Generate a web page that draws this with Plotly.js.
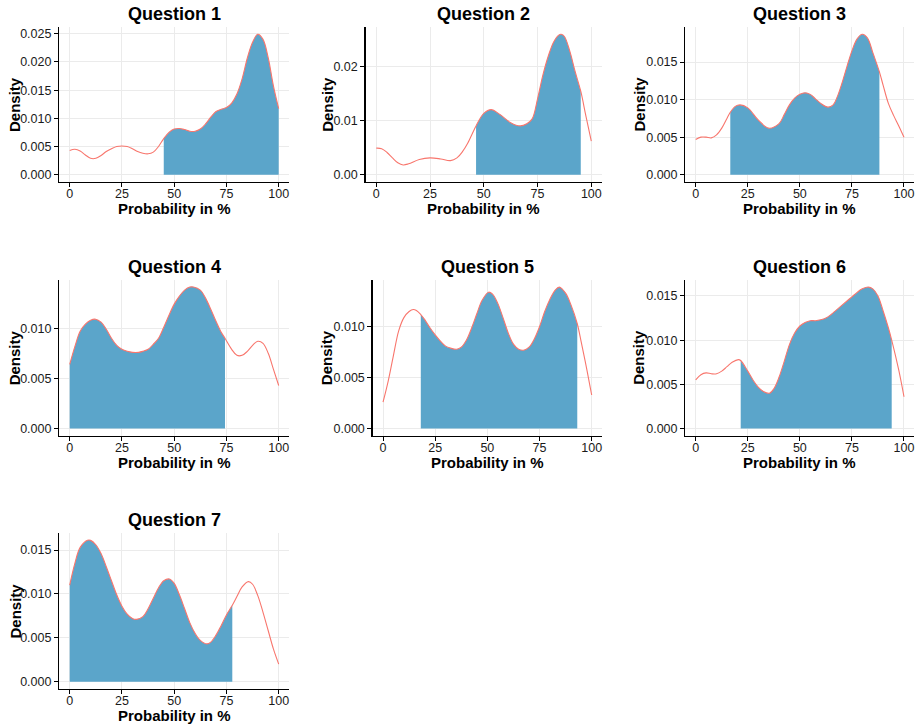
<!DOCTYPE html>
<html>
<head>
<meta charset="utf-8">
<script src="https://cdn.plot.ly/plotly-3.0.1.min.js"></script>
<style>
  html, body { margin: 0; padding: 0; background: #ffffff; }
  #chart { width: 923px; height: 727px; }
</style>
</head>
<body>
<div id="chart"></div>
<script>
// Kernel density of the stated probability for each question,
// with the central region of the distribution shaded.
const questions = ["Question 1", "Question 2", "Question 3", "Question 4",
                   "Question 5", "Question 6", "Question 7"];
const xTicks = [0, 25, 50, 75, 100];
const xTickText = ["0", "25", "50", "75", "100"];

const probQ1 = [0, 2.5, 5, 7.5, 10, 12.5, 15, 17.5, 20, 22.5, 25, 27.5, 30, 32.5, 35, 37.5, 40, 42.5,
                45, 47.5, 50, 52.5, 55, 57.5, 60, 62.5, 65, 67.5, 70, 72.5, 75, 77.5, 80, 82.5, 85,
                87.5, 90, 92.5, 95, 97.5, 100];
const densQ1 = [0.0043, 0.0045, 0.0042, 0.0035, 0.0029, 0.0029, 0.0034, 0.0041, 0.0046, 0.0050, 0.0051,
                0.0050, 0.0046, 0.0041, 0.0038, 0.0037, 0.0040, 0.0050, 0.0064, 0.0075, 0.0081, 0.0082,
                0.0080, 0.0077, 0.0077, 0.0081, 0.0090, 0.0102, 0.0112, 0.0116, 0.0119, 0.0127, 0.0143,
                0.0170, 0.0207, 0.0235, 0.0249, 0.0240, 0.0207, 0.0157, 0.0117];
const shadeQ1 = [45, 100];

const probQ2 = [0, 2.5, 5, 7.5, 10, 12.5, 15, 20, 25, 30, 34.5, 37.5, 40, 42.5, 46.4, 50, 53.4, 57.5,
                62.5, 66.9, 70, 72.5, 75, 77.5, 80, 82.5, 85, 86, 87.5, 90, 92.5, 95.1, 97.5, 100];
const densQ2 = [0.0049, 0.0048, 0.0041, 0.0031, 0.0022, 0.0018, 0.0020, 0.0028, 0.0031, 0.0029, 0.0026,
                0.0031, 0.0042, 0.0058, 0.0090, 0.0113, 0.0120, 0.0111, 0.0096, 0.0090, 0.0094, 0.0103,
                0.0140, 0.0184, 0.0219, 0.0245, 0.0258, 0.0259, 0.0255, 0.0228, 0.0190, 0.0154, 0.0108,
                0.0062];
const shadeQ2 = [46.4, 95.1];

const probQ3 = [0, 2.5, 5, 7.5, 10, 12.5, 15, 16.6, 19, 21.3, 25, 30, 35, 40, 42.5, 45, 47.5, 50, 52.5,
                55, 57.5, 60, 63.5, 66, 68, 70, 72.5, 75, 77.5, 80, 82.5, 85, 88.2, 90, 92.5, 95, 97.5, 100];
const densQ3 = [0.0047, 0.0050, 0.0050, 0.0049, 0.0053, 0.0062, 0.0075, 0.0083, 0.0091, 0.0093, 0.0089,
                0.0073, 0.0062, 0.0068, 0.0080, 0.0093, 0.0102, 0.0107, 0.0109, 0.0107, 0.0101, 0.0095,
                0.0090, 0.0093, 0.0104, 0.0120, 0.0143, 0.0165, 0.0181, 0.0187, 0.0182, 0.0163, 0.0137,
                0.0119, 0.0095, 0.0079, 0.0065, 0.0050];
const shadeQ3 = [16.6, 88.2];

const probQ4 = [0, 2.5, 5, 7.5, 10, 12.4, 15, 17.5, 20, 22.5, 25, 27.5, 30, 33, 35, 37.5, 40, 42.5, 45,
                47.5, 50, 52.5, 55, 57.5, 59.2, 62.5, 65, 67.5, 70, 72.5, 74.3, 77.5, 80, 82.5, 85, 87.5,
                90, 92.5, 95, 97.5, 100];
const densQ4 = [0.0064, 0.0082, 0.0097, 0.0104, 0.0108, 0.0109, 0.0106, 0.0099, 0.0090, 0.0083, 0.0079,
                0.0077, 0.0076, 0.0076, 0.0077, 0.0079, 0.0084, 0.0090, 0.0101, 0.0113, 0.0124, 0.0132,
                0.0138, 0.0141, 0.0141, 0.0138, 0.0130, 0.0119, 0.0107, 0.0096, 0.0090, 0.0079, 0.0073,
                0.0073, 0.0077, 0.0083, 0.0087, 0.0085, 0.0075, 0.0059, 0.0043];
const shadeQ4 = [0, 74.3];

const probQ5 = [0, 2.5, 5, 7.5, 10, 12.5, 14.5, 16, 18.1, 20, 22.5, 25, 27.5, 30, 32.5, 35.3, 37.5, 40,
                42.5, 45, 47.5, 50.6, 52.5, 55, 57.5, 60, 62.5, 65, 67.3, 70, 72.5, 75, 77.5, 80, 82.5,
                84.5, 87.5, 90, 93.1, 95, 97.5, 100];
const densQ5 = [0.0026, 0.0047, 0.0072, 0.0096, 0.0109, 0.0115, 0.0117, 0.0116, 0.0112, 0.0107, 0.0099,
                0.0092, 0.0086, 0.0081, 0.0079, 0.0078, 0.0080, 0.0087, 0.0099, 0.0113, 0.0126, 0.0134,
                0.0132, 0.0123, 0.0109, 0.0094, 0.0083, 0.0078, 0.0077, 0.0080, 0.0088, 0.0100, 0.0115,
                0.0127, 0.0136, 0.0139, 0.0133, 0.0122, 0.0103, 0.0085, 0.0060, 0.0033];
const shadeQ5 = [18.1, 93.1];

const probQ6 = [0, 2.5, 5, 7.5, 10, 12.5, 15, 17.5, 20.5, 21.6, 25, 27.5, 30, 32.5, 35.4, 37.5, 40, 42.5,
                45, 47.5, 50, 52.5, 55, 57.5, 60, 62.5, 65, 67.5, 70, 72.5, 75, 77.5, 80, 82.9, 85, 87.5,
                90, 92.5, 94.1, 97.5, 100];
const densQ6 = [0.0055, 0.0061, 0.0063, 0.0062, 0.0062, 0.0065, 0.0070, 0.0075, 0.0078, 0.0077, 0.0065,
                0.0055, 0.0047, 0.0042, 0.0040, 0.0045, 0.0058, 0.0076, 0.0095, 0.0108, 0.0116, 0.0120,
                0.0122, 0.0122, 0.0123, 0.0125, 0.0129, 0.0134, 0.0139, 0.0144, 0.0149, 0.0154, 0.0158,
                0.0160, 0.0158, 0.0150, 0.0133, 0.0114, 0.0100, 0.0066, 0.0036];
const shadeQ6 = [21.6, 94.1];

const probQ7 = [0, 2.5, 5, 8.5, 10, 12.5, 15, 17.5, 20, 22.5, 25, 27.5, 30, 32, 35, 37.5, 40, 42.5, 45,
                47.7, 50, 52.5, 55, 57.5, 60, 62.5, 65.6, 67.5, 70, 72.5, 75, 77.8, 80, 82.5, 85.5, 87.5,
                90, 92.5, 95, 97.5, 100];
const densQ7 = [0.0110, 0.0135, 0.0153, 0.0161, 0.0161, 0.0156, 0.0146, 0.0131, 0.0115, 0.0099, 0.0086,
                0.0077, 0.0072, 0.0071, 0.0074, 0.0083, 0.0095, 0.0107, 0.0115, 0.0117, 0.0112, 0.0099,
                0.0083, 0.0067, 0.0055, 0.0047, 0.0043, 0.0045, 0.0053, 0.0064, 0.0076, 0.0087, 0.0097,
                0.0108, 0.0114, 0.0111, 0.0098, 0.0079, 0.0058, 0.0037, 0.0020];
const shadeQ7 = [0, 77.8];

const probs = [probQ1, probQ2, probQ3, probQ4, probQ5, probQ6, probQ7];
const dens = [densQ1, densQ2, densQ3, densQ4, densQ5, densQ6, densQ7];
const shades = [shadeQ1, shadeQ2, shadeQ3, shadeQ4, shadeQ5, shadeQ6, shadeQ7];
const yStep = [0.005, 0.01, 0.005, 0.005, 0.005, 0.005, 0.005];
const yFormat = [".3f", ".2f", ".3f", ".3f", ".3f", ".3f", ".3f"];

// Panel boxes in page pixels: [left, right, top, bottom], plus the y-title centre.
const W = 923, H = 727;
const boxes = [
  [59.25, 289.15, 27.3, 181.7],
  [365.55, 602.05, 27.3, 181.7],
  [685.3, 914.4, 27.3, 181.7],
  [59.25, 289.15, 280, 435.7],
  [372.6, 602.1, 280, 435.7],
  [685.3, 914.4, 280, 435.7],
  [59.25, 289.15, 533.3, 688.7]
];
const yTitleX = [14.5, 327.3, 639, 14.5, 327.3, 639, 14.5];

const FONT = "Liberation Sans, Arial, Helvetica, sans-serif";
const FILL = "#5ba5ca";
const LINE = "#f8766d";

const traces = [];
const layout = {
  width: W, height: H,
  margin: {l: 0, r: 0, t: 0, b: 0},
  paper_bgcolor: "#ffffff",
  plot_bgcolor: "#ffffff",
  showlegend: false,
  font: {family: FONT, color: "#1a1a1a"},
  annotations: []
};

const px = v => v / W;
const py = v => 1 - v / H;

questions.forEach((q, i) => {
  const sfx = i === 0 ? "" : String(i + 1);
  const xa = "x" + sfx, ya = "y" + sfx;
  const xs = probs[i], ys = dens[i];
  const [lo, hi] = shades[i];

  const sx = [], sy = [];
  xs.forEach((v, k) => { if (v >= lo && v <= hi) { sx.push(v); sy.push(ys[k]); } });

  traces.push({
    x: sx, y: sy, xaxis: xa, yaxis: ya, type: "scatter", mode: "lines",
    line: {width: 0, shape: "spline", color: FILL},
    fill: "tozeroy", fillcolor: FILL, hoverinfo: "skip"
  });
  traces.push({
    x: xs, y: ys, xaxis: xa, yaxis: ya, type: "scatter", mode: "lines",
    line: {width: 1.1, shape: "spline", color: LINE}
  });

  const top = Math.max(...ys);
  const [l, r, t, b] = boxes[i];
  const axisCommon = {
    showline: true, linecolor: "#000000", linewidth: 1.3,
    ticks: "outside", ticklen: 4, tickwidth: 1, tickcolor: "#000000",
    showgrid: true, gridcolor: "#ebebeb", gridwidth: 1,
    zeroline: false, fixedrange: true,
    tickfont: {family: FONT, size: 12.5, color: "#1a1a1a"}
  };
  layout["xaxis" + sfx] = Object.assign({}, axisCommon, {
    domain: [px(l), px(r)], anchor: ya,
    range: [-5, 105], tickmode: "array", tickvals: xTicks, ticktext: xTickText,
    ticklabelstandoff: -4
  });
  layout["yaxis" + sfx] = Object.assign({}, axisCommon, {
    domain: [py(b), py(t)], anchor: xa,
    range: [-0.05 * top, 1.05 * top], tick0: 0, dtick: yStep[i], tickformat: yFormat[i]
  });

  const cx = (l + r) / 2;
  layout.annotations.push({
    text: q, xref: "paper", yref: "paper", x: px(cx), y: py(t - 13),
    xanchor: "center", yanchor: "middle", showarrow: false,
    font: {family: FONT, size: 18, weight: "bold", color: "#000000"}
  });
  layout.annotations.push({
    text: "Probability in %", xref: "paper", yref: "paper", x: px(cx), y: py(b + 26.5),
    xanchor: "center", yanchor: "middle", showarrow: false,
    font: {family: FONT, size: 15, weight: "bold", color: "#000000"}
  });
  layout.annotations.push({
    text: "Density", xref: "paper", yref: "paper", x: px(yTitleX[i]), y: py((t + b) / 2),
    xanchor: "center", yanchor: "middle", textangle: -90, showarrow: false,
    font: {family: FONT, size: 15, weight: "bold", color: "#000000"}
  });
});

Plotly.newPlot("chart", traces, layout, {staticPlot: true, displayModeBar: false});
</script>
</body>
</html>
